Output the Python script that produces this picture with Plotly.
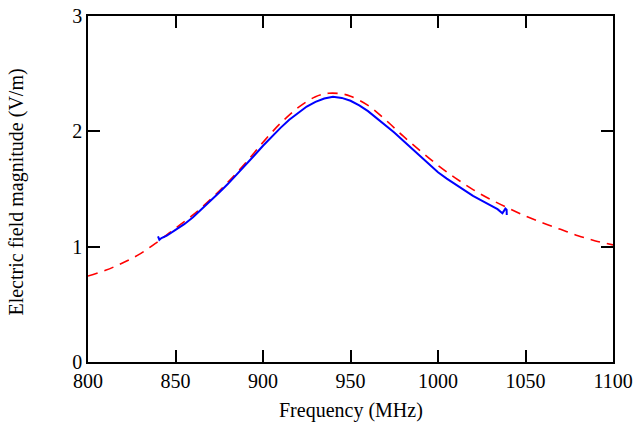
import plotly.graph_objects as go

# Model (red dashed)
model_freq = [800, 810, 820, 830, 840, 850, 860, 870, 880, 890, 900, 910, 920, 930, 937.5,
              945, 950, 960, 970, 980, 990, 1000, 1010, 1020, 1030, 1040, 1050, 1060,
              1070, 1080, 1090, 1100]
model_e = [0.745, 0.795, 0.86, 0.94, 1.045, 1.16, 1.275, 1.41, 1.56, 1.725, 1.905, 2.07,
           2.205, 2.30, 2.33, 2.325, 2.305, 2.225, 2.10, 1.96, 1.83, 1.705, 1.595, 1.495,
           1.41, 1.335, 1.265, 1.205, 1.15, 1.095, 1.05, 1.015]

# Measurement (blue solid)
meas_freq = [840.0, 840.8, 842, 845, 850, 855, 860, 865, 870, 875, 880, 885, 890, 895, 900,
             905, 910, 915, 920, 925, 930, 935, 940, 945, 950, 955, 960, 965, 970, 975,
             980, 985, 990, 995, 1000, 1005, 1010, 1015, 1020, 1025, 1030, 1034, 1036.8,
             1038.5, 1039.2, 1039.3]
meas_e = [1.09, 1.06, 1.075, 1.095, 1.145, 1.195, 1.255, 1.325, 1.395, 1.47, 1.545, 1.625,
          1.705, 1.79, 1.875, 1.955, 2.03, 2.10, 2.16, 2.215, 2.255, 2.285, 2.30, 2.29,
          2.265, 2.225, 2.175, 2.115, 2.055, 1.99, 1.92, 1.85, 1.78, 1.71, 1.645, 1.59,
          1.54, 1.485, 1.44, 1.40, 1.36, 1.325, 1.29, 1.33, 1.32, 1.275]

x_ticks = [800, 850, 900, 950, 1000, 1050, 1100]
y_ticks = [0, 1, 2, 3]

FONT = "Liberation Serif"

fig = go.Figure()
fig.add_trace(go.Scatter(x=model_freq, y=model_e, mode="lines",
                         line=dict(color="#ff0000", width=1.6, dash="10px,7px", shape="spline"),
                         showlegend=False))
fig.add_trace(go.Scatter(x=meas_freq, y=meas_e, mode="lines",
                         line=dict(color="#0000ff", width=2),
                         showlegend=False))

axis_common = dict(showline=True, linecolor="black", linewidth=1.5, mirror="ticks",
                   ticks="inside", ticklen=12, tickwidth=1.5, tickcolor="black",
                   showgrid=False, zeroline=False, automargin=False,
                   ticklabeloverflow="allow",
                   tickfont=dict(family=FONT, size=20, color="black"))

fig.update_xaxes(range=[800, 1100], tickvals=x_ticks,
                 ticktext=[str(v) for v in x_ticks],
                 **axis_common)
fig.update_yaxes(range=[0, 3], tickvals=y_ticks,
                 ticktext=[str(v) for v in y_ticks],
                 **axis_common)

fig.add_annotation(text="Frequency (MHz)", xref="paper", yref="paper",
                   x=0.5, y=-0.139, xanchor="center", yanchor="middle", showarrow=False,
                   font=dict(family=FONT, size=20, color="black"))
fig.add_annotation(text="Electric field magnitude (V/m)", xref="paper", yref="paper",
                   x=-0.137, y=0.49, xanchor="center", yanchor="middle", showarrow=False,
                   textangle=-90, font=dict(family=FONT, size=20, color="black"))

fig.update_layout(width=637, height=423,
                  margin=dict(l=88, r=24, t=16, b=61),
                  plot_bgcolor="white", paper_bgcolor="white")

fig.write_html("out.html", config={"displayModeBar": False},
               post_script="document.body.style.margin='0';")
